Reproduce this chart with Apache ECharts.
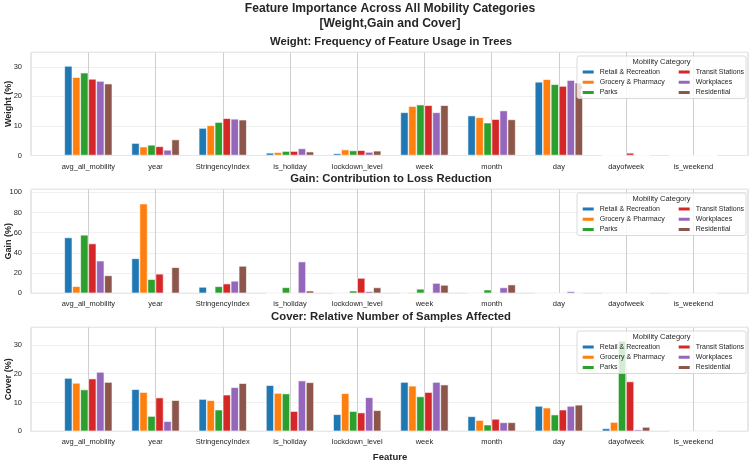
<!DOCTYPE html>
<html>
<head>
<meta charset="utf-8">
<script src="https://cdn.jsdelivr.net/npm/echarts@6/dist/echarts.min.js"></script>
<style>
html, body { margin: 0; padding: 0; background: #fff; }
#chart { width: 750px; height: 462px; }
</style>
</head>
<body>
<div id="chart"></div>
<script>
// data
const features = ['avg_all_mobility', 'year', 'StringencyIndex', 'is_holiday', 'lockdown_level',
    'week', 'month', 'day', 'dayofweek', 'is_weekend'];
const categories = ['Retail & Recreation', 'Grocery & Pharmacy', 'Parks',
    'Transit Stations', 'Workplaces', 'Residential'];

// one row per mobility category, one value per feature
const weightPct = [
    [30.3, 4.2, 9.3, 0.9, 0.7, 14.6, 13.5, 24.9, 0, 0],
    [26.5, 3.0, 10.2, 1.1, 2.0, 16.7, 12.9, 25.8, 0, 0],
    [28.0, 3.6, 11.3, 1.5, 1.7, 17.2, 11.1, 24.1, 0, 0],
    [25.9, 3.1, 12.6, 1.5, 1.8, 17.0, 12.3, 23.5, 0.9, 0],
    [25.2, 1.9, 12.4, 2.4, 1.2, 14.6, 15.2, 25.5, 0, 0],
    [24.3, 5.4, 12.1, 1.3, 1.6, 17.0, 12.2, 24.6, 0, 0]
];
const gainPct = [
    [55.3, 34.6, 6.3, 0, 0, 0, 0, 0, 0, 0],
    [7.0, 88.8, 0, 0, 0, 1.0, 0, 0, 0, 0],
    [57.9, 14.0, 6.9, 5.9, 2.6, 4.4, 3.6, 0, 0, 0],
    [49.3, 19.3, 9.6, 0, 15.2, 0, 0, 0, 0, 0],
    [32.3, 0, 12.3, 31.4, 2.0, 10.2, 5.8, 2.0, 0, 0],
    [17.7, 25.8, 27.1, 2.6, 5.8, 8.3, 8.6, 0, 0, 0]
];
const coverPct = [
    [18.5, 14.6, 11.2, 16.0, 5.9, 17.1, 5.2, 8.8, 1.0, 0],
    [16.8, 13.6, 10.8, 13.3, 13.2, 15.8, 3.9, 8.2, 3.2, 0],
    [14.5, 5.3, 7.5, 13.1, 7.0, 12.1, 2.3, 5.8, 31.4, 0],
    [18.3, 11.7, 12.7, 7.0, 6.5, 13.6, 4.3, 7.5, 17.3, 0],
    [20.6, 3.5, 15.3, 17.6, 11.8, 17.1, 3.1, 8.8, 0.6, 0],
    [17.1, 10.8, 16.7, 17.0, 7.3, 16.2, 3.1, 9.2, 1.5, 0]
];
const yMax = [34.9, 103, 36.1];
const yStep = [10, 20, 10];

const panelData = [weightPct, gainPct, coverPct];
const panelTitles = ['Weight: Frequency of Feature Usage in Trees',
    'Gain: Contribution to Loss Reduction',
    'Cover: Relative Number of Samples Affected'];
const yNames = ['Weight (%)', 'Gain (%)', 'Cover (%)'];

const colors = ['#1f77b4', '#ff7f0e', '#2ca02c', '#d62728', '#9467bd', '#8c564b'];
const font = '"Liberation Sans", Arial, sans-serif';
const textColor = '#262626';

// layout of the three panels (px)
const panelTop = [52.3, 189.3, 327.3];
const panelHeight = [103.2, 104, 104];
const frameLeft = 31, frameWidth = 717;
const barLeft = 54.7, barWidth = 672.2;
const legendTop = [56, 193, 331];

const grid = [], xAxis = [], yAxis = [], series = [], legend = [], graphic = [];

for (let p = 0; p < 3; p++) {
    // bar grid (category bands centred on the ticks)
    grid.push({ left: barLeft, top: panelTop[p], width: barWidth, height: panelHeight[p] });
    xAxis.push({
        type: 'category', gridIndex: p, data: features,
        axisLine: { show: false }, axisTick: { show: false },
        axisLabel: { color: textColor, fontSize: 7.5, fontFamily: font, margin: 7, interval: 0 },
        splitLine: { show: true, alignWithLabel: true, lineStyle: { color: '#cfcfcf', width: 1 } }
    });
    yAxis.push({ type: 'value', gridIndex: p, min: 0, max: yMax[p], show: false });
}
for (let p = 0; p < 3; p++) {
    // frame grid: border, horizontal grid lines and y tick labels
    grid.push({
        left: frameLeft, top: panelTop[p], width: frameWidth, height: panelHeight[p],
        show: true, borderColor: '#d0d0d0', borderWidth: 1
    });
    xAxis.push({ type: 'value', gridIndex: 3 + p, min: 0, max: 1, show: false });
    yAxis.push({
        type: 'value', gridIndex: 3 + p, min: 0, max: yMax[p], interval: yStep[p],
        axisLine: { show: false }, axisTick: { show: false },
        axisLabel: { color: textColor, fontSize: 7.5, fontFamily: font, margin: 9, showMaxLabel: false },
        splitLine: { lineStyle: { color: '#ececec', width: 0.8 } }
    });
}

for (let p = 0; p < 3; p++) {
    categories.forEach((name, i) => {
        series.push({
            type: 'bar', name: name, xAxisIndex: p, yAxisIndex: p,
            data: panelData[p][i],
            barWidth: 8, barGap: 0,
            itemStyle: { color: colors[i], borderColor: '#fff', borderWidth: 0.6 },
            emphasis: { disabled: true }
        });
    });

    const lt = legendTop[p];
    const legendBase = {
        orient: 'vertical', top: lt + 12, padding: 0,
        itemWidth: 13, itemHeight: 5, itemGap: 2.2, icon: 'rect',
        selectedMode: false, z: 8,
        textStyle: { fontSize: 7, lineHeight: 8, color: textColor, fontFamily: font }
    };
    legend.push(Object.assign({}, legendBase, { left: 580.7, data: categories.slice(0, 3) }));
    legend.push(Object.assign({}, legendBase, { left: 676.7, data: categories.slice(3) }));

    graphic.push({
        type: 'rect', z: 6,
        shape: { x: 577, y: lt, width: 169, height: 42.5, r: 2 },
        style: { fill: 'rgba(255,255,255,0.8)', stroke: '#d0d0d0', lineWidth: 0.8 }
    });
    graphic.push({
        type: 'text', z: 7, x: 661.5, y: lt + 6.3,
        style: { text: 'Mobility Category', font: '7.5px ' + font, fill: textColor, align: 'center', verticalAlign: 'middle' }
    });
    graphic.push({
        type: 'text', z: 7, x: 391, y: panelTop[p] - 10.5,
        style: { text: panelTitles[p], font: 'bold 11.3px ' + font, fill: textColor, align: 'center', verticalAlign: 'middle' }
    });
    graphic.push({
        type: 'text', z: 7, x: 8.5, y: panelTop[p] + panelHeight[p] / 2, rotation: Math.PI / 2,
        style: { text: yNames[p], font: 'bold 9px ' + font, fill: textColor, align: 'center', verticalAlign: 'middle' }
    });
}

graphic.push({
    type: 'text', z: 7, x: 390, y: 8.5,
    style: { text: 'Feature Importance Across All Mobility Categories', font: 'bold 12.1px ' + font, fill: textColor, align: 'center', verticalAlign: 'middle' }
});
graphic.push({
    type: 'text', z: 7, x: 390, y: 23.5,
    style: { text: '[Weight,Gain and Cover]', font: 'bold 12.1px ' + font, fill: textColor, align: 'center', verticalAlign: 'middle' }
});
graphic.push({
    type: 'text', z: 7, x: 390, y: 457,
    style: { text: 'Feature', font: 'bold 9.5px ' + font, fill: textColor, align: 'center', verticalAlign: 'middle' }
});

const myChart = echarts.init(document.getElementById('chart'), null, { renderer: 'canvas' });
myChart.setOption({
    animation: false,
    backgroundColor: '#fff',
    color: colors,
    grid: grid,
    xAxis: xAxis,
    yAxis: yAxis,
    legend: legend,
    series: series,
    graphic: graphic
});
window.onresize = myChart.resize;
</script>
</body>
</html>
